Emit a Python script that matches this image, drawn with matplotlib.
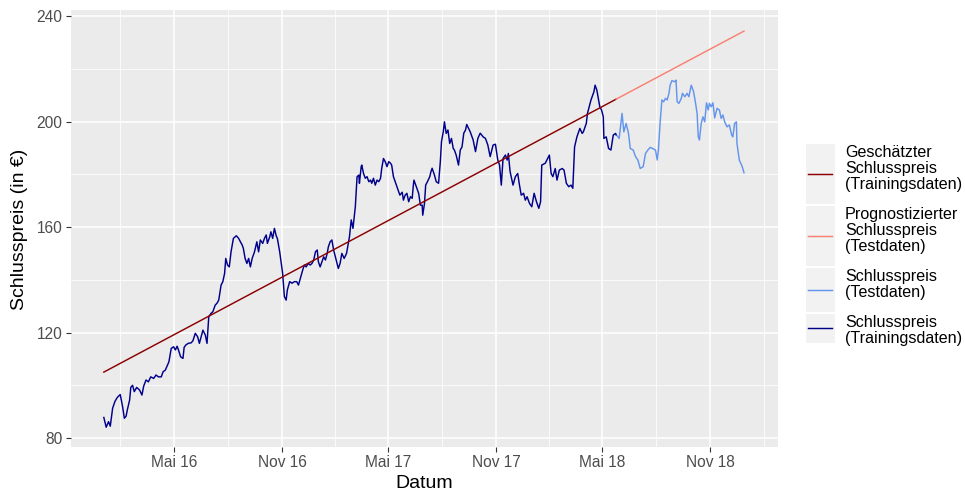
import matplotlib
matplotlib.use('Agg')
import matplotlib.pyplot as plt
import matplotlib.dates as mdates
import pandas as pd
from matplotlib.lines import Line2D
from matplotlib.patches import Rectangle

plt.rcParams['font.family'] = ['Liberation Sans', 'DejaVu Sans']

START = pd.Timestamp('2016-01-01')

# Schlusspreis Trainingsdaten (Tage seit 01.01.2016)
train_days = [
    1, 5, 9, 12, 16, 20, 24, 29, 33, 36, 39, 41, 45, 47, 50, 53, 57, 62, 66, 69,
    73, 77, 81, 86, 90, 94, 99, 102, 106, 109, 112, 116, 120, 123, 126, 128, 132,
    136, 138, 141, 145, 150, 153, 157, 161, 164, 170, 174, 177, 180, 184, 187, 191,
    194, 197, 201, 204, 207, 209, 212, 215, 218, 222, 227, 231, 234, 237, 239, 242,
    245, 248, 251, 254, 258, 262, 265, 268, 272, 275, 278, 280, 284, 286, 289, 292,
    295, 297, 301, 306, 309, 312, 314, 318, 322, 326, 330, 333, 337, 341, 343, 346,
    350, 353, 356, 359, 362, 365, 367, 370, 373, 376, 379, 382, 384, 387, 390, 393,
    396, 399, 401, 404, 407, 411, 415, 417, 420, 423, 426, 430, 433, 436, 437, 440,
    441, 444, 447, 450, 453, 456, 458, 461, 464, 467, 470, 473, 475, 478, 481, 484,
    487, 490, 492, 495, 498, 501, 506, 510, 512, 515, 518, 521, 524, 527, 529, 530,
    534, 538, 541, 544, 545, 548, 550, 553, 557, 559, 561, 565, 568, 572, 575, 577,
    580, 582, 585, 588, 591, 594, 597, 599, 602, 604, 606, 609, 612, 615, 618, 620,
    626, 631, 635, 639, 643, 648, 652, 656, 660, 665, 669, 673, 676, 679, 682, 686,
    689, 691, 694, 699, 703, 707, 710, 713, 717, 720, 723, 727, 731, 735, 739, 743,
    746, 748, 754, 758, 761, 764, 767, 771, 774, 778, 783, 786, 790, 794, 798, 801,
    804, 808, 813, 817, 819, 824, 826, 832, 837, 839, 842, 847, 850, 853, 854, 858,
    862, 866, 870, 874, 875,
]
train_price = [
    87.8, 84.1, 86.2, 84.5, 91.3, 93.9, 95.4, 96.5, 91.9, 87.5, 88.3, 90.6, 94.4, 99.2,
    100.0, 97.6, 99.2, 98.2, 96.3, 99.7, 102.0, 101.3, 103.2, 102.6, 103.9, 103.2,
    103.2, 105.1, 105.8, 107.3, 108.9, 114.0, 114.6, 113.4, 114.8, 113.6, 110.8, 110.2,
    114.4, 115.3, 115.9, 116.1, 116.9, 119.7, 118.4, 115.9, 120.9, 119.1, 115.9, 126.0,
    127.3, 127.9, 130.4, 131.1, 132.3, 138.0, 139.3, 142.4, 148.1, 145.6, 144.9, 150.6,
    155.7, 156.7, 155.7, 154.4, 153.2, 151.9, 148.1, 146.2, 148.1, 144.9, 148.1, 150.6,
    154.4, 150.6, 155.1, 153.8, 155.7, 157.0, 153.8, 156.3, 158.2, 155.7, 159.5, 156.7,
    155.7, 150.6, 142.4, 133.6, 132.3, 136.1, 139.3, 138.7, 139.3, 139.3, 138.0, 141.2,
    144.3, 145.6, 144.9, 146.2, 145.6, 146.2, 147.5, 150.6, 151.3, 146.8, 144.9, 146.8,
    148.7, 147.5, 150.0, 152.5, 154.4, 155.1, 151.3, 148.7, 146.2, 144.3, 146.2, 150.0,
    148.1, 150.0, 152.5, 156.3, 162.7, 159.5, 167.7, 179.1, 179.7, 176.6, 182.9, 183.5,
    180.3, 178.5, 179.1, 177.2, 177.8, 176.6, 178.5, 175.9, 177.8, 177.2, 178.5, 182.2,
    186.0, 184.8, 182.9, 184.8, 184.2, 183.5, 179.1, 177.2, 175.3, 172.1, 173.2, 170.2,
    172.1, 172.8, 169.6, 171.5, 170.9, 175.9, 177.8, 175.3, 172.8, 168.3, 168.3, 164.5,
    169.0, 175.9, 177.2, 179.1, 181.0, 182.3, 179.7, 177.2, 176.6, 184.8, 192.4, 196.1,
    199.9, 195.5, 196.8, 191.7, 193.6, 189.8, 189.2, 187.3, 185.4, 183.5, 189.2, 190.4,
    195.6, 196.8, 198.9, 196.1, 193.0, 188.6, 193.6, 195.6, 194.2, 193.6, 191.1, 186.7,
    191.1, 191.4, 185.4, 183.5, 175.9, 186.0, 187.3, 185.4, 187.9, 181.0, 175.9, 179.1,
    180.3, 175.9, 172.1, 172.8, 170.2, 171.5, 169.0, 167.7, 172.8, 169.6, 167.1, 169.6,
    183.5, 184.2, 186.0, 187.3, 180.3, 179.1, 182.2, 177.8, 181.6, 182.2, 181.6, 176.6,
    175.3, 175.9, 174.7, 190.4, 194.2, 197.4, 195.5, 196.1, 199.3, 203.1, 208.2, 211.3,
    213.8, 211.9, 205.6, 204.4, 201.8, 193.6, 194.2, 189.8, 189.2, 194.9, 195.5, 194.9,
]

# Schlusspreis Testdaten
test_days = [
    877, 880, 885, 888, 892, 896, 899, 904, 908, 912, 916, 921, 925, 929, 933, 937,
    942, 945, 947, 950, 953, 956, 959, 962, 965, 967, 970, 975, 977, 979, 982, 986,
    988, 992, 996, 999, 1003, 1007, 1010, 1013, 1015, 1017, 1020, 1023, 1026, 1029,
    1032, 1034, 1037, 1040, 1043, 1047, 1051, 1054, 1057, 1060, 1064, 1068, 1072,
    1074, 1077, 1080, 1081, 1085, 1090, 1093,
]
test_price = [
    194.5, 193.6, 203.1, 196.1, 199.3, 195.5, 189.8, 189.2, 186.7, 185.4, 182.2, 182.9,
    187.9, 189.2, 190.2, 189.8, 189.2, 185.4, 189.2, 199.9, 208.2, 207.5, 208.8, 208.2,
    210.7, 213.8, 215.5, 215.1, 215.7, 207.5, 206.9, 208.8, 210.7, 209.4, 210.7, 209.4,
    213.8, 211.3, 207.5, 203.1, 194.2, 193.0, 199.3, 201.8, 199.9, 207.1, 204.4, 206.9,
    205.6, 207.1, 201.4, 205.0, 204.4, 201.2, 202.5, 199.9, 198.0, 198.7, 194.9, 194.2,
    199.3, 199.9, 191.7, 185.4, 182.9, 180.6,
]

# lineares Modell: geschätzt (Training) und prognostiziert (Test)
fit_days = [1, 875]
fit_price = [105.0, 208.5]
pred_days = [875, 1093]
pred_price = [208.5, 234.3]

tick_dates = ['2016-05-01', '2016-11-01', '2017-05-01',
              '2017-11-01', '2018-05-01', '2018-11-01']
tick_labels = ['Mai 16', 'Nov 16', 'Mai 17', 'Nov 17', 'Mai 18', 'Nov 18']
y_ticks = [80, 120, 160, 200, 240]

legend_labels = [
    ['Geschätzter', 'Schlusspreis', '(Trainingsdaten)'],
    ['Prognostizierter', 'Schlusspreis', '(Testdaten)'],
    ['Schlusspreis', '(Testdaten)'],
    ['Schlusspreis', '(Trainingsdaten)'],
]
legend_colors = ['darkred', 'salmon', 'cornflowerblue', 'darkblue']


def to_dates(days):
    return START + pd.to_timedelta(days, unit='D')


W, H = 965, 496
fig = plt.figure(figsize=(W / 100, H / 100), dpi=100)
ax = fig.add_axes([71 / W, 1 - 447 / H, 707 / W, 437 / H])
ax.set_facecolor('#EBEBEB')
for s in ax.spines.values():
    s.set_visible(False)

ax.plot(to_dates(train_days), train_price, color='darkblue', lw=1.05, zorder=3)
ax.plot(to_dates(test_days), test_price, color='cornflowerblue', lw=1.05, zorder=3)
ax.plot(to_dates(fit_days), fit_price, color='darkred', lw=1.05, zorder=4)
ax.plot(to_dates(pred_days), pred_price, color='salmon', lw=1.05, zorder=4)

ax.set_xlim(to_dates([-55, 1151]))
ax.set_ylim(76.6, 242.3)

majors = mdates.date2num(pd.to_datetime(tick_dates))
step = majors[1] - majors[0]
minors = [majors[0] - step / 2] + [(a + b) / 2 for a, b in zip(majors[:-1], majors[1:])] \
    + [majors[-1] + step / 2]
ax.set_xticks(majors)
ax.set_xticklabels(tick_labels)
ax.set_xticks(minors, minor=True)
ax.set_yticks(y_ticks)
ax.set_yticks([(a + b) / 2 for a, b in zip(y_ticks[:-1], y_ticks[1:])], minor=True)

ax.grid(which='major', color='white', lw=1.1)
ax.grid(which='minor', color='white', lw=0.55)
ax.set_axisbelow(True)
ax.tick_params(which='major', length=3.6, width=0.8, color='#333333',
               labelsize=11.2, labelcolor='#4D4D4D', pad=2.5)
ax.tick_params(which='minor', length=0)

fig.text(424 / W, 1 - 484 / H, 'Datum', ha='center', va='center', fontsize=14)
fig.text(20 / W, 1 - 229 / H, 'Schlusspreis (in €)', ha='center', va='center',
         rotation=90, fontsize=14)

# Legende rechts neben dem Panel
boxes = [(143, 204), (205, 266), (267, 312), (313, 343)]
for lines, color, (top, bottom) in zip(legend_labels, legend_colors, boxes):
    fig.patches.append(Rectangle((806 / W, 1 - bottom / H), 29 / W, (bottom - top - 1) / H,
                                 transform=fig.transFigure, facecolor='#F2F2F2',
                                 edgecolor='none'))
    mid = 1 - (top + bottom) / 2 / H
    fig.lines.append(Line2D([807.5 / W, 832 / W], [mid, mid], transform=fig.transFigure,
                            color=color, lw=1.05))
    for i, text in enumerate(lines):
        fig.text(845 / W, 1 - (top + 14.2 + i * 15.8) / H, text, ha='left',
                 va='baseline', fontsize=11.6)

fig.savefig('out.png', dpi=100, facecolor='white')
